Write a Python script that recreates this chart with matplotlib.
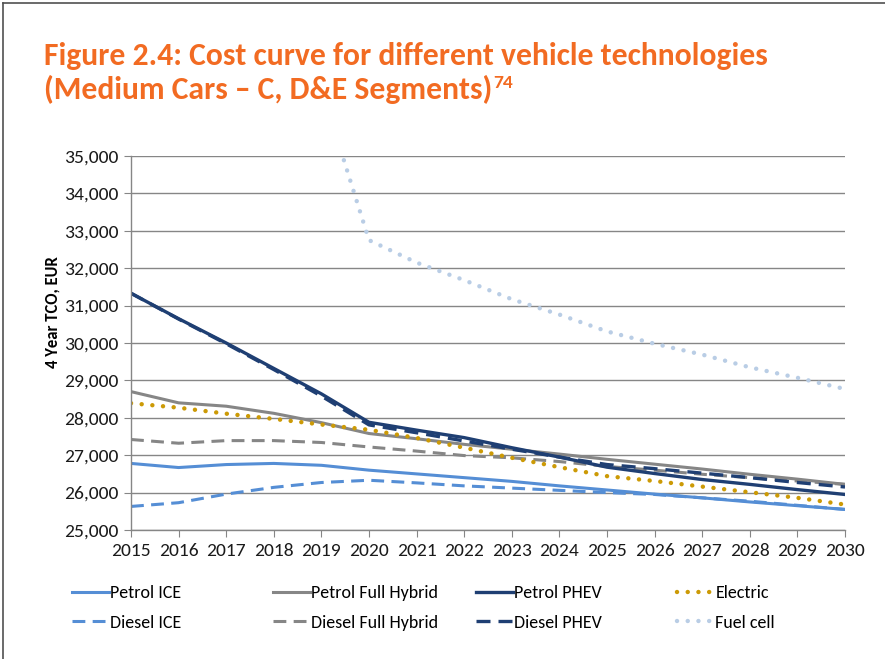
import numpy as np
import matplotlib
matplotlib.use('Agg')
import matplotlib.pyplot as plt
from matplotlib.lines import Line2D
from matplotlib.ticker import FuncFormatter

years = list(range(2015, 2031))

petrol_ice = [26780, 26670, 26750, 26780, 26730, 26600, 26500, 26400, 26300, 26180, 26070, 25960, 25860, 25750, 25650, 25550]
diesel_ice = [25630, 25730, 25960, 26140, 26270, 26330, 26260, 26180, 26120, 26060, 26000, 25950, 25860, 25770, 25660, 25550]
petrol_full_hybrid = [28700, 28400, 28310, 28120, 27870, 27580, 27440, 27290, 27160, 27030, 26890, 26760, 26630, 26490, 26360, 26220]
diesel_full_hybrid = [27420, 27320, 27390, 27390, 27340, 27220, 27110, 26990, 26930, 26830, 26700, 26600, 26490, 26400, 26310, 26220]
petrol_phev = [31330, 30650, 30000, 29320, 28640, 27880, 27670, 27470, 27200, 26950, 26680, 26510, 26350, 26220, 26080, 25950]
diesel_phev = [31330, 30640, 29980, 29290, 28580, 27810, 27600, 27380, 27160, 26950, 26750, 26640, 26520, 26400, 26270, 26150]
electric = [28390, 28270, 28110, 27970, 27820, 27680, 27460, 27200, 26930, 26680, 26440, 26310, 26160, 26010, 25860, 25680]
fuel_cell = [np.nan, np.nan, np.nan, np.nan, 36800, 32750, 32150, 31680, 31170, 30760, 30310, 29980, 29690, 29350, 29070, 28770]

labels = ['Petrol ICE', 'Diesel ICE', 'Petrol Full Hybrid', 'Diesel Full Hybrid',
          'Petrol PHEV', 'Diesel PHEV', 'Electric', 'Fuel cell']

BLUE = '#558ED5'
GREY = '#868686'
NAVY = '#1F3F73'
GOLD = '#CC9A06'
LIGHT = '#B9CDE5'
ORANGE = '#F26B22'

dash = (0, (4.2, 2.4))
dot = (0, (0.01, 2.4))

series = [
    (petrol_ice, BLUE, '-'),
    (diesel_ice, BLUE, dash),
    (petrol_full_hybrid, GREY, '-'),
    (diesel_full_hybrid, GREY, dash),
    (petrol_phev, NAVY, '-'),
    (diesel_phev, NAVY, dash),
    (electric, GOLD, dot),
    (fuel_cell, LIGHT, dot),
]

plt.rcParams['font.family'] = ['Carlito', 'Lato', 'DejaVu Sans']

fig = plt.figure(figsize=(8.85, 6.59), dpi=100)
ax = fig.add_axes([131/885, 1 - 530/659, (845-131)/885, (530-156)/659])

for (vals, col, ls), lab in zip(series, labels):
    if ls == dot:
        ax.plot(years, vals, color=col, linestyle=ls, linewidth=3.2,
                dash_capstyle='round', label=lab)
    else:
        ax.plot(years, vals, color=col, linestyle=ls,
                linewidth=2.4 if col == NAVY else 2.2, label=lab)

ax.set_xlim(2015, 2030)
ax.set_ylim(25000, 35000)
ax.set_xticks(years)
ax.set_yticks(range(25000, 35001, 1000))
ax.yaxis.set_major_formatter(FuncFormatter(lambda v, p: f'{int(v):,}'))
ax.grid(axis='y', color=GREY, linewidth=1.0)
ax.set_axisbelow(True)
for s in ['top', 'right']:
    ax.spines[s].set_visible(False)
for s in ['left', 'bottom']:
    ax.spines[s].set_color(GREY)
    ax.spines[s].set_linewidth(1.0)
ax.tick_params(axis='both', direction='out', length=5, color=GREY, labelsize=14,
               labelcolor='#1a1a1a', pad=4)
ax.set_ylabel('4 Year TCO, EUR', fontsize=12, fontweight='bold')
ax.yaxis.set_label_coords(-0.099, 0.583)

# legend, one block per column
handles = ax.get_lines()
col_x = [72, 273, 476, 677]
for i, x in enumerate(col_x):
    hs = [handles[2*i], handles[2*i + 1]]
    fig.legend(hs, [h.get_label() for h in hs], loc='upper left',
               bbox_to_anchor=(x/885, 1 - 585/659), frameon=False,
               fontsize=13, handlelength=2.05, handletextpad=0.08,
               labelspacing=0.75, borderaxespad=0, borderpad=0)

# title
fig.text(44/885, 1 - 64.5/659, 'Figure 2.4: Cost curve for different vehicle technologies',
         fontsize=22.8, fontweight='bold', color=ORANGE, va='baseline')
t2 = fig.text(44/885, 1 - 98.5/659, '(Medium Cars \u2013 C, D&E Segments)',
              fontsize=22.8, fontweight='bold', color=ORANGE, va='baseline')
fig.canvas.draw()
bb = t2.get_window_extent()
fig.text(bb.x1 / 885 + 0.001, 1 - 88/659, '74', fontsize=14, fontweight='bold',
         color=ORANGE, va='baseline')

# frame around the picture
fig.add_artist(Line2D([3/885, 1], [1 - 3/659, 1 - 3/659], color='#505050', linewidth=1.2))
fig.add_artist(Line2D([3/885, 3/885], [0, 1 - 3/659], color='#505050', linewidth=1.2))

fig.savefig('out.png', dpi=100)
